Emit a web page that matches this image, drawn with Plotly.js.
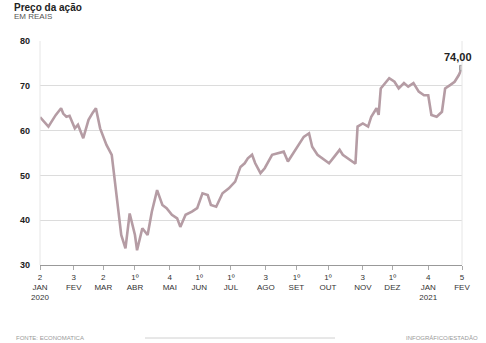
<!DOCTYPE html>
<html>
<head>
<meta charset="utf-8">
<script src="https://cdn.plot.ly/plotly-3.0.1.min.js"></script>
<style>html,body{margin:0;padding:0;background:#fff;}#chart{width:486px;height:343px;}</style>
</head>
<body>
<div id="chart"></div>
<script>
const dates = [
  "2020-01-02","2020-01-06","2020-01-10","2020-01-14","2020-01-17","2020-01-22","2020-01-24","2020-01-27","2020-01-30",
  "2020-02-04","2020-02-07","2020-02-12","2020-02-17","2020-02-21","2020-02-24","2020-02-28",
  "2020-03-05","2020-03-10","2020-03-13","2020-03-16","2020-03-19","2020-03-23","2020-03-27",
  "2020-04-01","2020-04-03","2020-04-08","2020-04-13","2020-04-17","2020-04-22","2020-04-27",
  "2020-05-01","2020-05-06","2020-05-11","2020-05-14","2020-05-19","2020-05-25","2020-05-30",
  "2020-06-04","2020-06-09","2020-06-12","2020-06-17","2020-06-23","2020-06-29",
  "2020-07-05","2020-07-10","2020-07-14","2020-07-17","2020-07-21","2020-07-24","2020-07-29",
  "2020-08-02","2020-08-09","2020-08-15","2020-08-20","2020-08-24","2020-08-28",
  "2020-09-03","2020-09-08","2020-09-13","2020-09-16","2020-09-21","2020-09-28",
  "2020-10-02","2020-10-07","2020-10-12","2020-10-15","2020-10-20","2020-10-27","2020-10-29",
  "2020-11-03","2020-11-08","2020-11-11","2020-11-16","2020-11-18","2020-11-20","2020-11-23","2020-11-28",
  "2020-12-03","2020-12-07","2020-12-12","2020-12-16","2020-12-21","2020-12-26","2020-12-31",
  "2021-01-04","2021-01-07","2021-01-12","2021-01-17","2021-01-20","2021-01-25","2021-01-29",
  "2021-02-02","2021-02-05"
];
const prices = [
  63.0,62.0,60.9,62.4,63.5,65.0,63.8,63.1,63.3,
  60.5,61.3,58.3,62.4,64.0,65.0,60.5,
  56.8,54.6,48.6,41.9,36.7,33.7,41.5,
  36.7,33.3,38.2,36.7,41.9,46.7,43.4,
  42.7,41.2,40.4,38.5,41.2,41.9,42.7,
  46.0,45.6,43.4,43.0,46.0,47.1,
  48.6,51.9,52.7,53.8,54.6,52.7,50.5,
  51.6,54.6,54.9,55.3,53.1,54.6,
  56.8,58.6,59.4,56.4,54.6,53.4,
  52.7,54.2,55.7,54.6,53.8,52.6,60.9,
  61.6,60.9,63.1,65.0,63.5,69.4,70.2,71.7,
  70.9,69.4,70.6,69.8,70.6,68.7,67.9,
  67.9,63.5,63.1,64.2,69.4,70.2,70.9,
  72.4,74.0
];
const tickDates = ["2020-01-02","2020-02-03","2020-03-02","2020-04-01","2020-05-04","2020-06-01","2020-07-01","2020-08-03","2020-09-01","2020-10-01","2020-11-03","2020-12-01","2021-01-04","2021-02-05"];
const tickLabels = ["2<br>JAN<br>2020","3<br>FEV","2<br>MAR","1º<br>ABR","4<br>MAI","1º<br>JUN","1º<br>JUL","3<br>AGO","1º<br>SET","1º<br>OUT","3<br>NOV","1º<br>DEZ","4<br>JAN<br>2021","5<br>FEV"];
const yTicks = [30,40,50,60,70,80];
const lastLabel = "74,00";

const lastDate = dates[dates.length-1];
const lastPrice = prices[prices.length-1];

const traces = [
  {x: dates, y: prices, type: "scatter", mode: "lines",
   line: {color: "#b59ca4", width: 2.6, shape: "linear"}, hoverinfo: "skip"},
  {x: [lastDate], y: [lastPrice], type: "scatter", mode: "markers",
   marker: {symbol: "square", size: 5, color: "#c8c0c3", line: {color: "#a0a0a0", width: 1}}, hoverinfo: "skip"}
];

const layout = {
  width: 486, height: 343,
  margin: {l: 40, r: 24, t: 41, b: 78},
  paper_bgcolor: "#ffffff", plot_bgcolor: "#ffffff",
  showlegend: false,
  font: {family: "Liberation Sans Narrow, Arial Narrow, sans-serif", color: "#333"},
  xaxis: {
    type: "date", range: ["2020-01-02", "2021-02-05"],
    tickvals: tickDates, ticktext: tickLabels,
    tickfont: {size: 8, color: "#333"},
    ticks: "outside", ticklen: 4, tickcolor: "#aaa",
    showgrid: false, zeroline: false,
    showline: true, linecolor: "#999", linewidth: 1,
    fixedrange: true
  },
  yaxis: {
    range: [30, 80], tickvals: yTicks,
    tickfont: {size: 9, color: "#222", weight: "bold"},
    showgrid: true, gridcolor: "#dcdcdc", gridwidth: 1,
    zeroline: false, showline: false, ticks: "",
    ticklabelstandoff: 9,
    fixedrange: true
  },
  shapes: [
    {type: "line", xref: "paper", yref: "paper", x0: 0, x1: 0, y0: 0, y1: 1, line: {color: "#e6e6e6", width: 1}},
    {type: "line", xref: "paper", yref: "paper", x0: 1, x1: 1, y0: 0, y1: 1, line: {color: "#e6e6e6", width: 1}},
    {type: "line", xref: "paper", yref: "paper", x0: (145-40)/422, x1: (335-40)/422, y0: (265-338)/224, y1: (265-338)/224, line: {color: "#d0d0d0", width: 1}}
  ],
  annotations: [
    {text: "<b>Preço da ação</b>", xref: "paper", yref: "paper", x: (12-40)/422, y: (265-0)/224,
     xanchor: "left", yanchor: "top", showarrow: false, font: {size: 10, color: "#222", family: "Liberation Sans, Arial, sans-serif"}},
    {text: "EM REAIS", xref: "paper", yref: "paper", x: (12-40)/422, y: (265-17)/224,
     xanchor: "left", yanchor: "middle", showarrow: false, font: {size: 8, color: "#555"}},
    {text: "<b>" + lastLabel + "</b>", xref: "paper", yref: "paper", x: (474-40)/422, y: (265-57)/224,
     xanchor: "right", yanchor: "middle", showarrow: false, font: {size: 11, color: "#222", family: "Liberation Sans, Arial, sans-serif"}},
    {text: "FONTE: ECONOMATICA", xref: "paper", yref: "paper", x: (14-40)/422, y: (265-338)/224,
     xanchor: "left", yanchor: "middle", showarrow: false, font: {size: 6, color: "#999"}},
    {text: "INFOGRÁFICO/ESTADÃO", xref: "paper", yref: "paper", x: (480-40)/422, y: (265-338)/224,
     xanchor: "right", yanchor: "middle", showarrow: false, font: {size: 6, color: "#999"}}
  ]
};

Plotly.newPlot("chart", traces, layout, {displayModeBar: false, staticPlot: true});
</script>
</body>
</html>
